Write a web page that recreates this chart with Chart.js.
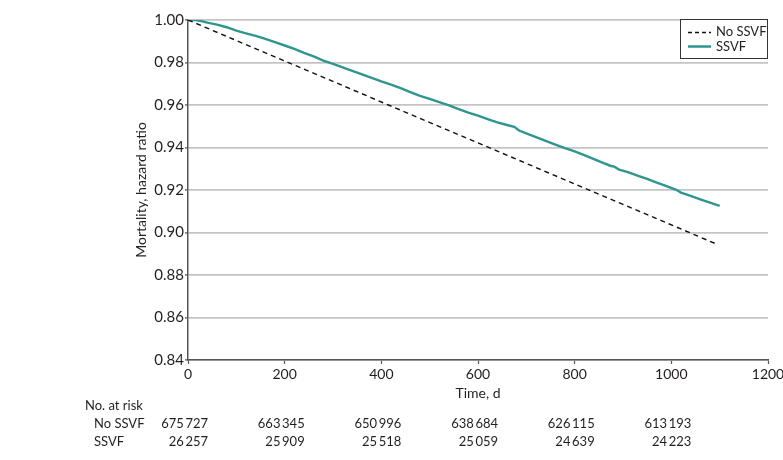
<!DOCTYPE html>
<html>
<head>
<meta charset="utf-8">
<script src="https://cdn.jsdelivr.net/npm/chart.js@4.4.1/dist/chart.umd.min.js"></script>
<style>
  html, body { margin: 0; padding: 0; background: #fff; }
  canvas { display: block; }
</style>
</head>
<body>
<canvas id="c" width="783" height="460"></canvas>
<script>
// ---- data ----
const ssvfDays = [0, 15, 25, 40, 60, 80, 100, 120, 140, 160, 180, 200, 220, 240, 260, 280, 300, 320, 340, 360, 380, 400, 420, 440, 460, 480, 500, 520, 540, 560, 580, 600, 620, 640, 660, 675, 685, 700, 720, 740, 760, 780, 800, 820, 840, 860, 875, 882, 892, 910, 930, 950, 970, 990, 1010, 1020, 1040, 1060, 1080, 1100];
const ssvfValues = [1.0000, 1.0000, 0.9996, 0.9988, 0.9978, 0.9966, 0.9950, 0.9937, 0.9925, 0.9911, 0.9896, 0.9880, 0.9864, 0.9845, 0.9829, 0.9809, 0.9793, 0.9777, 0.9761, 0.9744, 0.9728, 0.9711, 0.9696, 0.9679, 0.9661, 0.9643, 0.9629, 0.9613, 0.9598, 0.9581, 0.9564, 0.9550, 0.9533, 0.9518, 0.9506, 0.9497, 0.9480, 0.9466, 0.9449, 0.9431, 0.9414, 0.9397, 0.9382, 0.9364, 0.9345, 0.9326, 0.9313, 0.9310, 0.9296, 0.9284, 0.9268, 0.9252, 0.9235, 0.9218, 0.9201, 0.9188, 0.9172, 0.9156, 0.9141, 0.9125];
const noSsvfDays = [0, 1090];
const noSsvfValues = [1.0000, 0.8949];

const xTicks = [0, 200, 400, 600, 800, 1000, 1200];
const yTicks = [0.84, 0.86, 0.88, 0.90, 0.92, 0.94, 0.96, 0.98, 1.00];

const riskDays = [0, 200, 400, 600, 800, 1000];
const riskNoSsvf = [675727, 663345, 650996, 638684, 626115, 613193];
const riskSsvf = [26257, 25909, 25518, 25059, 24639, 24223];

const seriesNames = ['No SSVF', 'SSVF'];
const xTitle = 'Time, d';
const yTitle = 'Mortality, hazard ratio';
const riskTitle = 'No. at risk';

// ---- styles ----
const FONT = 'Lato, "Noto Sans", sans-serif';
const TEXT = '#231f20';
const TEAL = '#2f968f';
const AXIS = '#555555';
const GRID = '#c4c4c4';

function toPts(xs, ys) { return xs.map((x, i) => ({ x: x, y: ys[i] })); }
function fmt(n) {
  const s = String(n);
  return s.length > 3 ? s.slice(0, s.length - 3) + '\u2009' + s.slice(s.length - 3) : s;
}

const extras = {
  id: 'extras',
  afterDraw(chart) {
    const ctx = chart.ctx;
    const xs = chart.scales.x;
    const area = chart.chartArea;
    ctx.save();
    ctx.fillStyle = TEXT;
    // x title
    ctx.font = '14px ' + FONT;
    ctx.textAlign = 'center';
    ctx.textBaseline = 'middle';
    ctx.fillText(xTitle, (area.left + area.right) / 2, 393);
    // y title
    ctx.save();
    ctx.translate(141, (area.top + area.bottom) / 2);
    ctx.rotate(-Math.PI / 2);
    ctx.fillText(yTitle, 0, 0);
    ctx.restore();
    // risk table
    ctx.font = '13px ' + FONT;
    ctx.textAlign = 'left';
    ctx.fillText(riskTitle, 85, 406);
    ctx.fillText(seriesNames[0], 94, 424);
    ctx.fillText(seriesNames[1], 94, 442);
    ctx.textAlign = 'right';
    riskDays.forEach((d, i) => {
      const px = xs.getPixelForValue(d) + 20;
      ctx.fillText(fmt(riskNoSsvf[i]), px, 424);
      ctx.fillText(fmt(riskSsvf[i]), px, 442);
    });
    // legend
    const lx = 680, ly = 19, lw = 88, lh = 40;
    ctx.fillStyle = '#fff';
    ctx.fillRect(lx, ly, lw, lh);
    ctx.strokeStyle = '#333';
    ctx.lineWidth = 1;
    ctx.strokeRect(lx + 0.5, ly + 0.5, lw - 1, lh - 1);
    ctx.beginPath();
    ctx.setLineDash([4, 3]);
    ctx.strokeStyle = '#111';
    ctx.lineWidth = 1.5;
    ctx.moveTo(688, 32.5); ctx.lineTo(711, 32.5);
    ctx.stroke();
    ctx.setLineDash([]);
    ctx.beginPath();
    ctx.strokeStyle = TEAL;
    ctx.lineWidth = 2.5;
    ctx.moveTo(688, 46.5); ctx.lineTo(711, 46.5);
    ctx.stroke();
    ctx.fillStyle = TEXT;
    ctx.font = '13px ' + FONT;
    ctx.textAlign = 'left';
    ctx.fillText(seriesNames[0], 716, 32);
    ctx.fillText(seriesNames[1], 716, 47);
    ctx.restore();
  }
};

new Chart(document.getElementById('c'), {
  type: 'line',
  data: {
    datasets: [
      {
        label: seriesNames[0],
        data: toPts(noSsvfDays, noSsvfValues),
        borderColor: '#111',
        borderWidth: 1.4,
        borderDash: [5, 4],
        pointRadius: 0,
        fill: false,
        tension: 0
      },
      {
        label: seriesNames[1],
        data: toPts(ssvfDays, ssvfValues),
        borderColor: TEAL,
        borderWidth: 2.4,
        pointRadius: 0,
        fill: false,
        tension: 0
      }
    ]
  },
  options: {
    responsive: false,
    animation: false,
    devicePixelRatio: 1,
    layout: { padding: { top: 20, right: 15, left: 0, bottom: 0 } },
    plugins: { legend: { display: false }, tooltip: { enabled: false } },
    scales: {
      x: {
        type: 'linear',
        min: 0, max: 1200,
        afterBuildTicks(s) { s.ticks = xTicks.map(v => ({ value: v })); },
        afterFit(s) { s.height = 100; s.paddingLeft = 0; s.paddingRight = 0; },
        ticks: { color: TEXT, font: { family: FONT, size: 14 }, padding: 2, maxRotation: 0, autoSkip: false,
                 callback: v => String(v) },
        grid: { drawOnChartArea: false, drawTicks: true, tickLength: 4, tickColor: AXIS, tickWidth: 1.2 },
        border: { color: AXIS, width: 1.5 }
      },
      y: {
        type: 'linear',
        min: 0.84, max: 1.00,
        afterBuildTicks(s) { s.ticks = yTicks.map(v => ({ value: v })); },
        afterFit(s) { s.width = 188; s.paddingTop = 0; s.paddingBottom = 0; },
        ticks: { color: TEXT, font: { family: FONT, size: 15 }, padding: 1, autoSkip: false,
                 callback: v => Number(v).toFixed(2) },
        grid: { color: GRID, lineWidth: 1.8, drawTicks: true, tickLength: 3, tickColor: AXIS, tickWidth: 1.2 },
        border: { color: AXIS, width: 1.5 }
      }
    }
  },
  plugins: [extras]
});
</script>
</body>
</html>
